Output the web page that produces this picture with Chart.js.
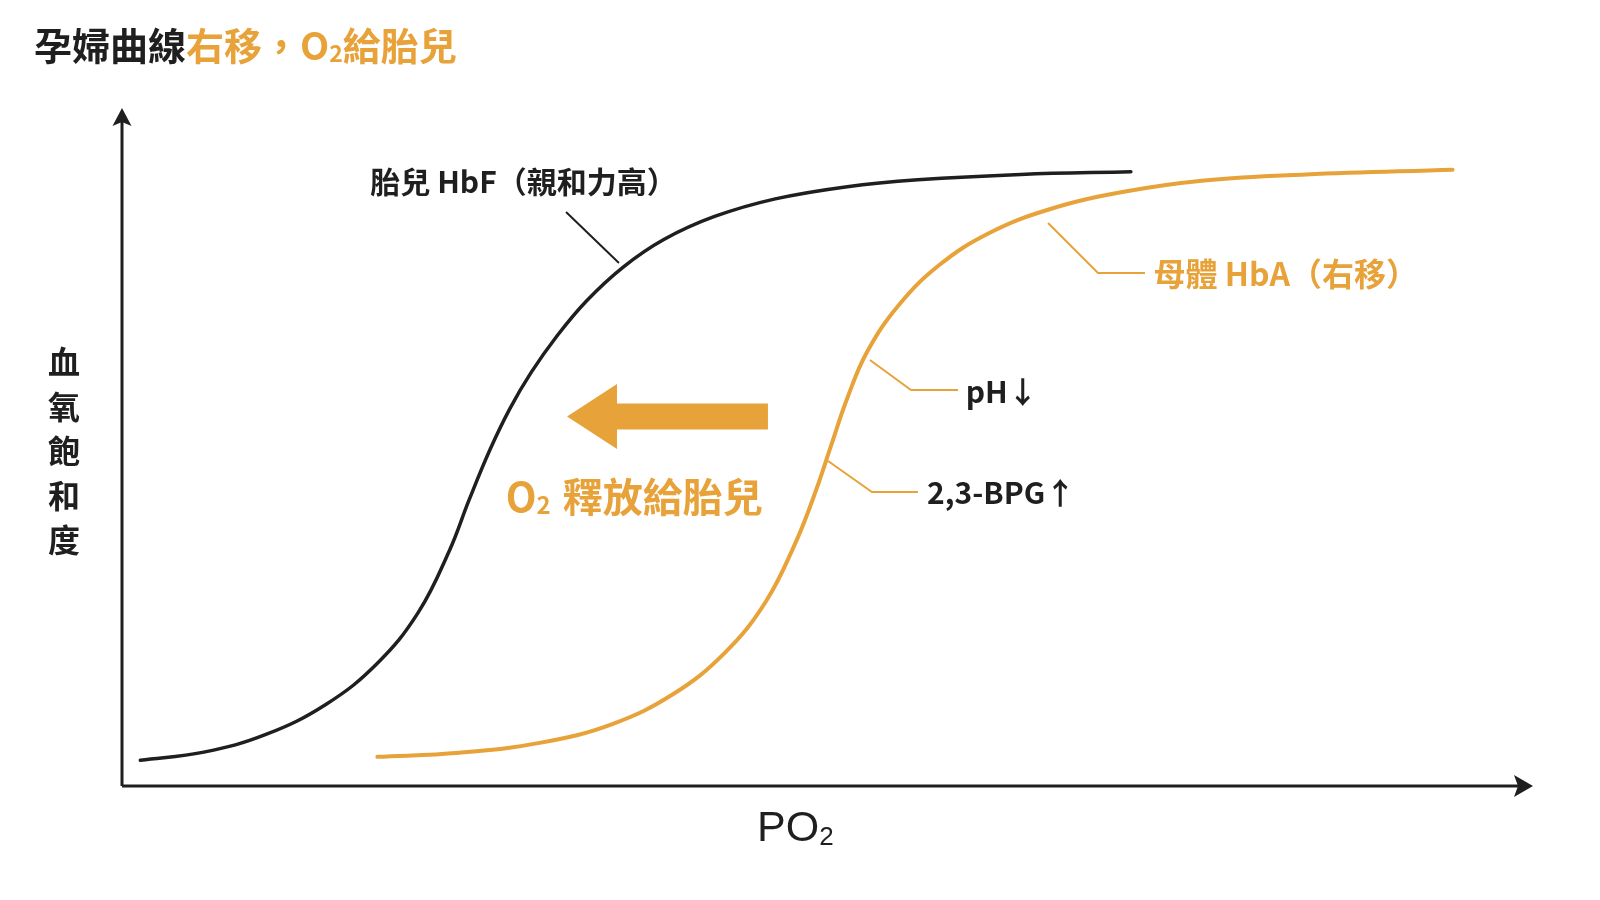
<!DOCTYPE html>
<html>
<head>
<meta charset="utf-8">
<title>孕婦曲線右移</title>
<script src="https://cdn.jsdelivr.net/npm/chart.js@4.4.1/dist/chart.umd.min.js"></script>
<style>
  html, body { margin: 0; padding: 0; background: #ffffff; }
  canvas { display: block; }
</style>
</head>
<body>
<canvas id="myChart" width="1600" height="900"></canvas>
<script>
// 胎兒 HbF 曲線 (PO2, 飽和度) — 0..100 的相對刻度
const fetalPO2 = [1.3, 5.8, 10.2, 14.5, 18.1, 21.0, 23.2, 24.6, 26.1, 27.5, 29.0, 30.8, 32.9, 35.5, 38.4, 42.0, 46.3, 51.4, 56.4, 63.7, 71.5];
const fetalSat = [3.8, 5.0, 7.6, 12.1, 18.1, 25.6, 34.7, 42.2, 49.7, 55.7, 61.0, 66.3, 71.5, 76.5, 80.6, 84.0, 86.6, 88.4, 89.4, 90.2, 90.6];

// 母體 HbA 曲線 (右移)
const maternalPO2 = [18.1, 23.9, 29.7, 34.7, 39.1, 42.7, 45.6, 47.8, 49.2, 50.3, 51.4, 52.8, 55.0, 57.9, 61.5, 65.8, 70.9, 76.7, 83.9, 94.3];
const maternalSat = [4.3, 4.9, 6.4, 9.1, 13.6, 19.6, 27.1, 36.2, 43.7, 50.5, 57.2, 64.0, 70.8, 76.8, 81.6, 85.1, 87.6, 89.3, 90.2, 90.9];

const seriesLabels = ['胎兒 HbF（親和力高）', '母體 HbA（右移）'];

const DARK = '#1f1f1f';
const ORANGE = '#e8a23a';
const CJK = '"Noto Sans CJK TC", "Noto Sans CJK SC", sans-serif';

function toPoints(xs, ys) {
    return xs.map((x, i) => ({ x: x, y: ys[i] }));
}

// 文字片段 (可含下標)
function drawParts(ctx, parts, x, y) {
    ctx.textBaseline = 'middle';
    ctx.textAlign = 'left';
    parts.forEach(p => {
        ctx.font = p.font;
        ctx.fillStyle = p.color;
        ctx.fillText(p.t, x, y + (p.dy || 0));
        x += ctx.measureText(p.t).width + (p.gap || 0);
    });
}

function arrowHead(ctx, tipX, tipY, dir, len, half, notch) {
    ctx.beginPath();
    if (dir === 'up') {
        ctx.moveTo(tipX, tipY);
        ctx.lineTo(tipX - half, tipY + len);
        ctx.lineTo(tipX, tipY + len - notch);
        ctx.lineTo(tipX + half, tipY + len);
    } else {
        ctx.moveTo(tipX, tipY);
        ctx.lineTo(tipX - len, tipY - half);
        ctx.lineTo(tipX - len + notch, tipY);
        ctx.lineTo(tipX - len, tipY + half);
    }
    ctx.closePath();
    ctx.fill();
}

const decorPlugin = {
    id: 'decor',
    beforeDatasetsDraw(chart) {
        const ctx = chart.ctx;
        const xs = chart.scales.x, ys = chart.scales.y;
        const x0 = xs.getPixelForValue(0), xEnd = xs.getPixelForValue(100);
        const y0 = ys.getPixelForValue(0), yEnd = ys.getPixelForValue(100);
        ctx.save();
        ctx.strokeStyle = DARK;
        ctx.fillStyle = DARK;
        ctx.lineWidth = 3;
        ctx.beginPath();
        ctx.moveTo(x0, y0);
        ctx.lineTo(x0, yEnd + 12);
        ctx.moveTo(x0, y0);
        ctx.lineTo(xEnd - 12, y0);
        ctx.stroke();
        arrowHead(ctx, x0, yEnd, 'up', 18, 9.5, 4);
        arrowHead(ctx, xEnd, y0, 'right', 19, 11, 4);
        ctx.restore();
    },
    afterDraw(chart) {
        const ctx = chart.ctx;
        const xs = chart.scales.x, ys = chart.scales.y;
        const px = v => xs.getPixelForValue(v);
        const py = v => ys.getPixelForValue(v);
        ctx.save();

        // 標題
        const tf = 'bold 38px ' + CJK;
        const tfs = 'bold 23px ' + CJK;
        drawParts(ctx, [
            { t: '孕婦曲線', color: DARK, font: tf },
            { t: '右移，O', color: ORANGE, font: tf },
            { t: '2', color: ORANGE, font: tfs, dy: 7 },
            { t: '給胎兒', color: ORANGE, font: tf }
        ], 34, 46);

        // 縱軸標籤
        ctx.font = 'bold 32px ' + CJK;
        ctx.fillStyle = DARK;
        ctx.textAlign = 'center';
        ctx.textBaseline = 'middle';
        '血氧飽和度'.split('').forEach((c, i) => {
            ctx.fillText(c, 64, 362 + i * 44.5);
        });

        // 橫軸標籤 PO2
        drawParts(ctx, [
            { t: 'PO', color: DARK, font: '43px "Liberation Sans", Arial, sans-serif' },
            { t: '2', color: DARK, font: '26px "Liberation Sans", Arial, sans-serif', dy: 9 }
        ], 757, 829);

        // 引線
        ctx.lineWidth = 2;
        ctx.strokeStyle = DARK;
        ctx.beginPath();
        ctx.moveTo(px(31.47), py(84.66));
        ctx.lineTo(px(35.22), py(77.14));
        ctx.stroke();

        ctx.strokeStyle = ORANGE;
        ctx.beginPath();
        ctx.moveTo(px(65.63), py(83.04));
        ctx.lineTo(px(69.17), py(75.66));
        ctx.lineTo(px(72.5), py(75.66));
        ctx.moveTo(px(53.01), py(62.83));
        ctx.lineTo(px(55.92), py(58.41));
        ctx.lineTo(px(59.25), py(58.41));
        ctx.moveTo(px(50.04), py(47.94));
        ctx.lineTo(px(53.15), py(43.36));
        ctx.lineTo(px(56.41), py(43.36));
        ctx.stroke();

        // 曲線標籤
        drawParts(ctx, [{ t: seriesLabels[0], color: DARK, font: 'bold 30px ' + CJK }], px(17.6), py(89.1));
        drawParts(ctx, [{ t: seriesLabels[1], color: ORANGE, font: 'bold 32px ' + CJK }], px(73.1), py(75.6));

        const sf = 'bold 30px ' + CJK;
        drawParts(ctx, [{ t: 'pH↓', color: DARK, font: sf }], px(59.8), py(58.2));
        drawParts(ctx, [{ t: '2,3-BPG↑', color: DARK, font: sf }], px(57.05), py(43.3));

        // 左向箭頭 (O2 釋放)
        ctx.fillStyle = ORANGE;
        const ay = 54.5;
        ctx.beginPath();
        ctx.moveTo(px(31.54), py(ay));
        ctx.lineTo(px(35.08), py(ay + 4.79));
        ctx.lineTo(px(35.08), py(ay + 1.92));
        ctx.lineTo(px(45.78), py(ay + 1.92));
        ctx.lineTo(px(45.78), py(ay - 1.92));
        ctx.lineTo(px(35.08), py(ay - 1.92));
        ctx.lineTo(px(35.08), py(ay - 4.79));
        ctx.closePath();
        ctx.fill();

        const af = 'bold 40px ' + CJK;
        drawParts(ctx, [
            { t: 'O', color: ORANGE, font: af },
            { t: '2', color: ORANGE, font: 'bold 24px ' + CJK, dy: 8, gap: 12 },
            { t: '釋放給胎兒', color: ORANGE, font: af }
        ], px(27.2), py(42.63));

        ctx.restore();
    }
};

const data = {
    datasets: [{
        label: seriesLabels[0],
        data: toPoints(fetalPO2, fetalSat),
        borderColor: DARK,
        borderWidth: 3.5,
        pointRadius: 0,
        tension: 0.4,
        borderCapStyle: 'round',
        fill: false
    }, {
        label: seriesLabels[1],
        data: toPoints(maternalPO2, maternalSat),
        borderColor: ORANGE,
        borderWidth: 4,
        pointRadius: 0,
        tension: 0.4,
        borderCapStyle: 'round',
        fill: false
    }]
};

const config = {
    type: 'line',
    data: data,
    options: {
        responsive: false,
        animation: false,
        layout: { padding: { left: 122, right: 67, top: 108, bottom: 114 } },
        scales: {
            x: { type: 'linear', min: 0, max: 100, display: false },
            y: { type: 'linear', min: 0, max: 100, display: false }
        },
        plugins: {
            legend: { display: false },
            tooltip: { enabled: false }
        }
    },
    plugins: [decorPlugin]
};

const myChart = new Chart(document.getElementById('myChart'), config);
</script>
</body>
</html>
